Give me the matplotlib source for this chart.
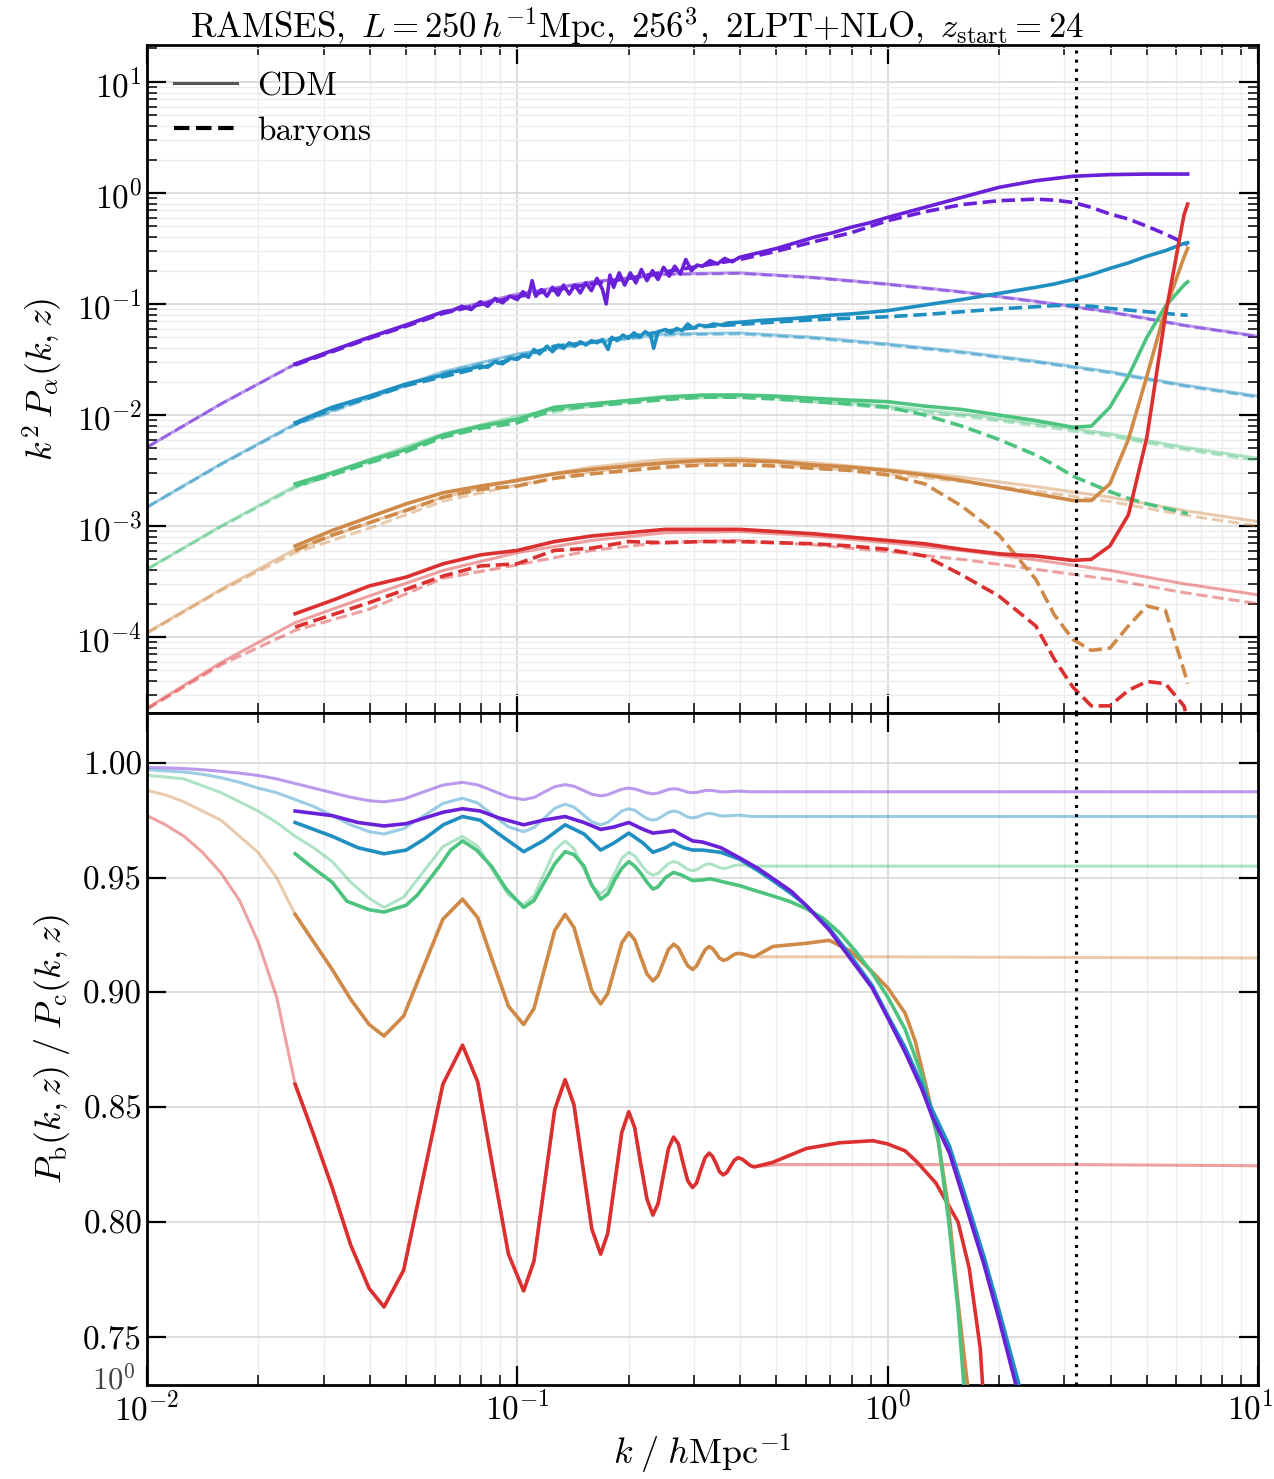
import numpy as np
import matplotlib
matplotlib.use("Agg")
import matplotlib.pyplot as plt
from matplotlib.lines import Line2D
from matplotlib.transforms import ScaledTranslation
from matplotlib.ticker import (LogLocator, MultipleLocator, NullFormatter, FixedLocator,
                               NullLocator, FormatStrFormatter)

plt.rcParams.update({
    "font.family": "serif",
    "font.serif": ["cmr10", "DejaVu Serif"],
    "mathtext.fontset": "cm",
    "axes.formatter.use_mathtext": True,
    "font.size": 24,
})

# ---------------- data (log10 values) ----------------
names = ["purple", "blue", "green", "orange", "red"]
colors = ["#6a1fd8", "#1f8fc2", "#4cc47f", "#cf8a48", "#dc2f2f"]
k_nyq = np.pi * 256 / 250.0

# linear theory, top panel (log10 k, log10 k^2 P)
th_logk = [-2.0, -1.8, -1.6, -1.4, -1.2, -1.0, -0.8, -0.6, -0.4, -0.2, 0.0, 0.2, 0.4, 0.6, 0.8, 1.0]
th_cdm = {
    "purple": [-2.29, -1.90, -1.54, -1.30, -1.07, -0.91, -0.80, -0.73, -0.72, -0.76, -0.82, -0.89, -0.975, -1.07, -1.19, -1.29],
    "blue":   [-2.83, -2.44, -2.08, -1.84, -1.61, -1.45, -1.34, -1.27, -1.26, -1.30, -1.36, -1.43, -1.515, -1.61, -1.73, -1.83],
    "green":  [-3.39, -3.00, -2.64, -2.40, -2.17, -2.01, -1.90, -1.83, -1.82, -1.86, -1.92, -1.99, -2.075, -2.17, -2.29, -2.39],
    "orange": [-3.96, -3.57, -3.21, -2.97, -2.74, -2.58, -2.47, -2.40, -2.39, -2.43, -2.49, -2.56, -2.645, -2.74, -2.86, -2.96],
    "red":    [-4.64, -4.23, -3.87, -3.63, -3.40, -3.24, -3.13, -3.06, -3.05, -3.09, -3.15, -3.22, -3.305, -3.40, -3.52, -3.62],
}
th_bar = {
    "purple": [-2.29, -1.90, -1.545, -1.305, -1.075, -0.915, -0.805, -0.735, -0.725, -0.765, -0.825, -0.895, -0.98, -1.075, -1.195, -1.295],
    "blue":   [-2.83, -2.445, -2.09, -1.85, -1.62, -1.46, -1.35, -1.28, -1.27, -1.31, -1.37, -1.44, -1.525, -1.62, -1.74, -1.84],
    "green":  [-3.39, -3.005, -2.655, -2.425, -2.19, -2.03, -1.92, -1.85, -1.84, -1.88, -1.94, -2.01, -2.095, -2.19, -2.31, -2.41],
    "orange": [-3.965, -3.58, -3.24, -3.02, -2.775, -2.63, -2.51, -2.44, -2.43, -2.47, -2.53, -2.60, -2.685, -2.78, -2.90, -3.00],
    "red":    [-4.65, -4.25, -3.94, -3.75, -3.47, -3.35, -3.22, -3.145, -3.13, -3.17, -3.23, -3.30, -3.39, -3.48, -3.60, -3.70],
}

# simulations, top panel
sim_logk = [-1.6, -1.5, -1.4, -1.3, -1.2, -1.1, -1.0, -0.9, -0.8, -0.7, -0.6, -0.5, -0.4, -0.3, -0.2,
            -0.1, 0.0, 0.1, 0.2, 0.3, 0.4, 0.45, 0.5, 0.55, 0.6, 0.65, 0.7, 0.75, 0.8, 0.81]

purple_cdm_logk = [-1.6, -1.5, -1.4, -1.3, -1.2, -1.175, -1.15, -1.125, -1.10, -1.08, -1.06, -1.04, -1.02, -1.00,
                   -0.985, -0.97, -0.96, -0.95, -0.935, -0.92, -0.905, -0.89, -0.875, -0.86, -0.845, -0.83, -0.815,
                   -0.80, -0.785, -0.77, -0.76, -0.75, -0.74, -0.725, -0.71, -0.695, -0.68, -0.665, -0.65, -0.635,
                   -0.62, -0.605, -0.59, -0.575, -0.56, -0.545, -0.53, -0.515, -0.50, -0.48, -0.46, -0.44, -0.42,
                   -0.40, -0.35, -0.30, -0.25, -0.20, -0.15, -0.10, -0.05, 0.0, 0.1, 0.2, 0.3, 0.4, 0.5, 0.6, 0.7, 0.81]
purple_cdm = [-1.54, -1.42, -1.30, -1.19, -1.07, -1.06, -1.02, -1.05, -0.98, -1.02, -0.95, -0.99, -0.93, -0.96,
              -0.89, -0.94, -0.79, -0.93, -0.87, -0.93, -0.85, -0.92, -0.83, -0.91, -0.83, -0.90, -0.81,
              -0.88, -0.77, -0.87, -1.00, -0.74, -0.85, -0.72, -0.83, -0.72, -0.81, -0.69, -0.79, -0.70,
              -0.78, -0.67, -0.75, -0.66, -0.73, -0.60, -0.70, -0.65, -0.66, -0.61, -0.64, -0.59, -0.62,
              -0.58, -0.54, -0.50, -0.45, -0.40, -0.36, -0.31, -0.27, -0.22, -0.13, -0.04, 0.05, 0.11, 0.15, 0.165, 0.17, 0.17]
purple_bar = [-1.55, -1.43, -1.31, -1.20, -1.085, -1.005, -0.935, -0.875, -0.82, -0.77, -0.71, -0.655, -0.60, -0.525,
              -0.44, -0.36, -0.25, -0.17, -0.105, -0.07, -0.056, -0.065, -0.085, -0.13, -0.19, -0.235, -0.30, -0.37, -0.45, -0.465]

blue_cdm_logk = [-1.6, -1.5, -1.4, -1.3, -1.2, -1.175, -1.15, -1.125, -1.10, -1.08, -1.06, -1.04, -1.02, -1.00,
                 -0.985, -0.97, -0.955, -0.94, -0.92, -0.905, -0.89, -0.875, -0.86, -0.845, -0.83, -0.815, -0.80,
                 -0.785, -0.77, -0.755, -0.745, -0.73, -0.715, -0.70, -0.685, -0.67, -0.655, -0.64, -0.632, -0.62,
                 -0.60, -0.585, -0.57, -0.555, -0.54, -0.525, -0.51, -0.49, -0.47, -0.45, -0.43, -0.40, -0.35,
                 -0.30, -0.25, -0.20, -0.15, -0.10, -0.05, 0.0, 0.1, 0.2, 0.3, 0.4, 0.45, 0.5, 0.55, 0.6, 0.65,
                 0.7, 0.75, 0.8, 0.81]
blue_cdm = [-2.07, -1.93, -1.83, -1.72, -1.64, -1.61, -1.60, -1.58, -1.56, -1.57, -1.52, -1.54, -1.49, -1.50,
            -1.46, -1.48, -1.41, -1.45, -1.38, -1.43, -1.37, -1.40, -1.35, -1.38, -1.34, -1.37, -1.33,
            -1.35, -1.32, -1.41, -1.30, -1.33, -1.28, -1.31, -1.26, -1.30, -1.25, -1.28, -1.40, -1.25,
            -1.23, -1.26, -1.22, -1.24, -1.18, -1.22, -1.19, -1.20, -1.18, -1.19, -1.17, -1.165, -1.15,
            -1.14, -1.13, -1.115, -1.10, -1.09, -1.075, -1.06, -1.01, -0.96, -0.905, -0.85, -0.82, -0.78, -0.735, -0.68, -0.63,
            -0.57, -0.52, -0.455, -0.448]
blue_bar = [-2.08, -1.945, -1.845, -1.735, -1.655, -1.575, -1.485, -1.38, -1.345, -1.295, -1.245, -1.205, -1.184, -1.162,
            -1.143, -1.128, -1.115, -1.095, -1.07, -1.045, -1.025, -1.015, -1.013, -1.02, -1.04, -1.055, -1.07, -1.085, -1.10, -1.10]

green_cdm = [-2.62, -2.52, -2.41, -2.31, -2.18, -2.10, -2.04, -1.93, -1.90, -1.87, -1.84, -1.82, -1.82, -1.83, -1.85,
             -1.866, -1.88, -1.92, -1.95, -2.00, -2.05, -2.08, -2.11, -2.10, -1.93, -1.65, -1.30, -1.02, -0.83, -0.80]
green_bar = [-2.64, -2.54, -2.43, -2.33, -2.20, -2.12, -2.07, -1.95, -1.92, -1.89, -1.86, -1.84, -1.84, -1.855, -1.88,
             -1.90, -1.93, -2.00, -2.10, -2.22, -2.36, -2.45, -2.55, -2.62, -2.69, -2.75, -2.80, -2.84, -2.88, -2.89]
orange_cdm = [-3.18, -3.04, -2.92, -2.80, -2.70, -2.64, -2.59, -2.53, -2.49, -2.46, -2.43, -2.41, -2.41, -2.42, -2.45,
              -2.47, -2.50, -2.54, -2.59, -2.65, -2.71, -2.74, -2.77, -2.77, -2.62, -2.22, -1.65, -1.05, -0.58, -0.50]
orange_bar = [-3.22, -3.08, -2.97, -2.86, -2.74, -2.67, -2.64, -2.57, -2.53, -2.50, -2.47, -2.45, -2.45, -2.46, -2.48,
              -2.50, -2.54, -2.62, -2.82, -3.08, -3.48, -3.80, -4.02, -4.12, -4.10, -3.90, -3.72, -3.76, -4.30, -4.42]
red_cdm = [-3.79, -3.67, -3.54, -3.46, -3.34, -3.26, -3.22, -3.14, -3.09, -3.06, -3.03, -3.03, -3.03, -3.05, -3.07,
           -3.10, -3.13, -3.16, -3.21, -3.25, -3.27, -3.29, -3.31, -3.30, -3.18, -2.90, -2.20, -1.10, -0.20, -0.10]
red_bar = [-3.91, -3.80, -3.69, -3.57, -3.45, -3.36, -3.34, -3.22, -3.20, -3.14, -3.15, -3.14, -3.14, -3.15, -3.16,
           -3.18, -3.21, -3.27, -3.44, -3.63, -3.90, -4.20, -4.45, -4.62, -4.62, -4.48, -4.40, -4.42, -4.62, -4.75]

# ratio, bottom panel: linear theory (log10 k, ratio)
rt_logk = [-2.0, -1.95, -1.9, -1.85, -1.8, -1.75, -1.7, -1.65, -1.6, -1.55, -1.5, -1.45, -1.4,
           -1.36, -1.307, -1.254, -1.201, -1.148, -1.107, -1.066, -1.024, -0.983, -0.955, -0.927, -0.899,
           -0.871, -0.847, -0.823, -0.799, -0.775, -0.756, -0.737, -0.718, -0.699, -0.683, -0.667, -0.650,
           -0.634, -0.620, -0.606, -0.592, -0.578, -0.565, -0.553, -0.540, -0.527, -0.516, -0.505, -0.493,
           -0.482, -0.473, -0.463, -0.454, -0.444, -0.434, -0.424, -0.414, -0.404, -0.393, -0.382, -0.371,
           -0.36, -0.30, -0.2, 0.0, 0.5, 1.0]
rt = {
    "purple": [0.998, 0.9978, 0.9975, 0.997, 0.9963, 0.9955, 0.9945, 0.993, 0.991, 0.989, 0.987, 0.985, 0.9835,
               0.983, 0.9842, 0.9873, 0.9903, 0.9915, 0.9904, 0.9878, 0.9851, 0.984, 0.9849, 0.9873, 0.9896,
               0.9905, 0.9898, 0.9881, 0.9863, 0.9856, 0.9861, 0.9873, 0.9885, 0.989, 0.9886, 0.9878, 0.9869,
               0.9865, 0.9868, 0.9876, 0.9884, 0.9887, 0.9885, 0.9879, 0.9872, 0.987, 0.9871, 0.9875, 0.9879,
               0.988, 0.9879, 0.9877, 0.9874, 0.9873, 0.9874, 0.9875, 0.9876, 0.9877, 0.9876, 0.9875, 0.9874,
               0.9874, 0.9874, 0.9874, 0.9874, 0.9874, 0.9874],
    "blue":   [0.997, 0.9965, 0.996, 0.995, 0.9935, 0.9915, 0.989, 0.987, 0.984, 0.981, 0.977, 0.973, 0.970,
               0.969, 0.9713, 0.9768, 0.9823, 0.9846, 0.9825, 0.9773, 0.9721, 0.970, 0.9718, 0.976, 0.9802,
               0.982, 0.9807, 0.9775, 0.9743, 0.973, 0.974, 0.9765, 0.979, 0.980, 0.9793, 0.9775, 0.9757,
               0.975, 0.9756, 0.977, 0.9784, 0.979, 0.9786, 0.9775, 0.9764, 0.976, 0.9763, 0.977, 0.9777,
               0.978, 0.9778, 0.9774, 0.977, 0.9768, 0.9769, 0.977, 0.9771, 0.9772, 0.9771, 0.9769, 0.9767,
               0.9766, 0.9766, 0.9766, 0.9766, 0.9766, 0.9766],
    "green":  [0.9946, 0.9938, 0.993, 0.990, 0.987, 0.983, 0.979, 0.974, 0.968, 0.963, 0.957, 0.948, 0.941,
               0.937, 0.9415, 0.9525, 0.9635, 0.968, 0.9636, 0.953, 0.9424, 0.938, 0.9421, 0.952, 0.9619,
               0.966, 0.9626, 0.9545, 0.9464, 0.943, 0.9456, 0.952, 0.9584, 0.961, 0.9595, 0.956, 0.9525,
               0.951, 0.9519, 0.954, 0.9561, 0.957, 0.9564, 0.955, 0.9536, 0.953, 0.9534, 0.9545, 0.9556,
               0.956, 0.9557, 0.955, 0.9543, 0.954, 0.9542, 0.9548, 0.9553, 0.9555, 0.9555, 0.9552, 0.955,
               0.955, 0.955, 0.955, 0.955, 0.955, 0.955],
    "orange": [0.988, 0.986, 0.983, 0.979, 0.975, 0.968, 0.961, 0.950, 0.934, 0.922, 0.910, 0.897, 0.886,
               0.881, 0.8897, 0.9108, 0.9319, 0.9406, 0.9326, 0.9133, 0.8940, 0.886, 0.893, 0.910, 0.927,
               0.934, 0.9283, 0.9145, 0.9007, 0.895, 0.8995, 0.9105, 0.9215, 0.926, 0.9229, 0.9155, 0.9081,
               0.905, 0.9073, 0.913, 0.9187, 0.921, 0.9194, 0.9155, 0.9116, 0.910, 0.9115, 0.915, 0.9185,
               0.920, 0.9191, 0.917, 0.9149, 0.914, 0.9144, 0.9155, 0.9166, 0.917, 0.9168, 0.9163, 0.9157,
               0.9155, 0.9155, 0.9155, 0.9155, 0.9152, 0.915],
    "red":    [0.977, 0.973, 0.968, 0.961, 0.952, 0.940, 0.922, 0.898, 0.860, 0.838, 0.815, 0.790, 0.771,
               0.763, 0.779, 0.8195, 0.860, 0.877, 0.861, 0.8235, 0.786, 0.770, 0.783, 0.816, 0.849,
               0.862, 0.851, 0.824, 0.797, 0.786, 0.795, 0.817, 0.839, 0.848, 0.841, 0.8255, 0.810,
               0.803, 0.808, 0.820, 0.832, 0.837, 0.834, 0.826, 0.818, 0.815, 0.817, 0.8225, 0.828,
               0.830, 0.8286, 0.8253, 0.8219, 0.8205, 0.8216, 0.8243, 0.8269, 0.828, 0.8274, 0.826, 0.8246,
               0.824, 0.825, 0.825, 0.825, 0.825, 0.8245],
}

# ratio, bottom panel: simulations
rs_purple_logk = [-1.6, -1.5, -1.43, -1.36, -1.30, -1.25, -1.20, -1.148, -1.10, -1.05, -0.983, -0.93, -0.871,
                  -0.82, -0.775, -0.74, -0.699, -0.66, -0.634, -0.60, -0.578, -0.55, -0.527, -0.50, -0.45, -0.40,
                  -0.35, -0.31, -0.26, -0.221, -0.158, -0.10, -0.042, 0.0, 0.047, 0.092, 0.12, 0.167, 0.212,
                  0.26, 0.30, 0.34, 0.36]
rs_purple = [0.979, 0.977, 0.974, 0.9725, 0.9735, 0.976, 0.9785, 0.980, 0.979, 0.976, 0.973, 0.975, 0.9766,
             0.974, 0.971, 0.972, 0.974, 0.971, 0.9694, 0.970, 0.9705, 0.968, 0.966, 0.9655, 0.963, 0.9586,
             0.954, 0.9496, 0.944, 0.938, 0.9272, 0.9146, 0.902, 0.889, 0.874, 0.858, 0.846, 0.830, 0.8066,
             0.7815, 0.758, 0.733, 0.72]
rs_blue_logk = [-1.6, -1.5, -1.43, -1.36, -1.30, -1.25, -1.20, -1.148, -1.10, -1.05, -0.983, -0.93, -0.871,
                -0.82, -0.775, -0.74, -0.699, -0.66, -0.634, -0.60, -0.578, -0.55, -0.527, -0.50, -0.45, -0.40,
                -0.35, -0.31, -0.26, -0.221, -0.158, -0.10, -0.042, 0.0, 0.047, 0.092, 0.12, 0.167, 0.212,
                0.26, 0.30, 0.34, 0.37]
rs_blue = [0.974, 0.968, 0.963, 0.9604, 0.962, 0.967, 0.973, 0.9766, 0.975, 0.969, 0.9613, 0.966, 0.973,
           0.969, 0.962, 0.965, 0.9694, 0.965, 0.961, 0.963, 0.965, 0.963, 0.962, 0.962, 0.961, 0.958,
           0.953, 0.9487, 0.943, 0.938, 0.928, 0.916, 0.903, 0.890, 0.876, 0.860, 0.849, 0.833, 0.810,
           0.785, 0.762, 0.738, 0.72]
rs_green_logk = [-1.6, -1.55, -1.5, -1.46, -1.40, -1.36, -1.30, -1.27, -1.21, -1.18, -1.148, -1.11, -1.07, -1.03,
                 -0.983, -0.955, -0.927, -0.899, -0.871, -0.847, -0.82, -0.80, -0.775, -0.755, -0.737, -0.718,
                 -0.699, -0.683, -0.667, -0.65, -0.634, -0.62, -0.60, -0.578, -0.555, -0.527, -0.50, -0.48,
                 -0.44, -0.40, -0.355, -0.31, -0.266, -0.22, -0.176, -0.13, -0.087, -0.04, 0.0, 0.047, 0.092,
                 0.137, 0.165, 0.19, 0.21]
rs_green = [0.9604, 0.954, 0.948, 0.9397, 0.936, 0.935, 0.938, 0.9424, 0.955, 0.962, 0.966, 0.962, 0.955, 0.945,
            0.937, 0.940, 0.948, 0.956, 0.9613, 0.960, 0.955, 0.947, 0.9406, 0.943, 0.949, 0.954,
            0.957, 0.955, 0.952, 0.948, 0.945, 0.946, 0.950, 0.9523, 0.951, 0.9487, 0.949, 0.9495,
            0.948, 0.9465, 0.9442, 0.942, 0.9397, 0.9365, 0.9325, 0.926, 0.918, 0.908, 0.898, 0.884, 0.864,
            0.8354, 0.80, 0.762, 0.72]
# orange and red simulations follow their linear-theory ratio up to k ~ 0.44, then:
rs_orange_tail_logk = [-0.31, -0.22, -0.158, -0.10, -0.042, 0.0, 0.047, 0.074, 0.11, 0.137, 0.165, 0.19, 0.222]
rs_orange_tail = [0.920, 0.9214, 0.9227, 0.918, 0.909, 0.902, 0.891, 0.879, 0.855, 0.835, 0.805, 0.765, 0.72]
rs_red_tail_logk = [-0.31, -0.22, -0.13, -0.04, 0.0, 0.047, 0.08, 0.13, 0.19, 0.22, 0.25, 0.26]
rs_red_tail = [0.826, 0.832, 0.8345, 0.8354, 0.834, 0.831, 0.826, 0.817, 0.800, 0.780, 0.745, 0.72]

top_yticks = [1e-4, 1e-3, 1e-2, 1e-1, 1e0, 1e1]

# ---------------- figure ----------------
W, H = 1274, 1479
fig = plt.figure(figsize=(W / 100, H / 100), dpi=100)
L, R = 147 / W, 1258 / W
ax1 = fig.add_axes([L, 1 - 713 / H, R - L, (713 - 45) / H])
ax2 = fig.add_axes([L, 1 - 1385 / H, R - L, (1385 - 713) / H], sharex=ax1)


def p(lst):
    return 10 ** np.asarray(lst, dtype=float)


cmap = dict(zip(names, colors))
LW_TH, A_TH, LW_S = 2.2, 0.45, 2.6

# top panel: theory
for n in names:
    c = cmap[n]
    ax1.plot(p(th_logk), p(th_cdm[n]), color=c, alpha=A_TH, lw=LW_TH, zorder=2)
    ax1.plot(p(th_logk), p(th_bar[n]), color=c, alpha=A_TH, lw=LW_TH, ls="--", zorder=2)

# top panel: simulations
sims_top = [
    ("purple", purple_cdm_logk, purple_cdm, sim_logk, purple_bar),
    ("blue", blue_cdm_logk, blue_cdm, sim_logk, blue_bar),
    ("green", sim_logk, green_cdm, sim_logk, green_bar),
    ("orange", sim_logk, orange_cdm, sim_logk, orange_bar),
    ("red", sim_logk, red_cdm, sim_logk, red_bar),
]
for n, kc, vc, kb, vb in sims_top:
    c = cmap[n]
    ax1.plot(p(kb), p(vb), color=c, lw=LW_S, ls="--", zorder=3)
    ax1.plot(p(kc), p(vc), color=c, lw=LW_S, zorder=4)

# bottom panel: theory
for n in names:
    ax2.plot(p(rt_logk), rt[n], color=cmap[n], alpha=A_TH, lw=LW_TH, zorder=2)

# bottom panel: simulations
i0, i1 = 8, 62   # from k = 0.025 up to k ~ 0.44 (index range in rt_logk)
rs_orange_logk = rt_logk[i0:i1] + rs_orange_tail_logk
rs_orange = rt["orange"][i0:i1] + rs_orange_tail
rs_red_logk = rt_logk[i0:i1] + rs_red_tail_logk
rs_red = rt["red"][i0:i1] + rs_red_tail
sims_bot = [("red", rs_red_logk, rs_red), ("orange", rs_orange_logk, rs_orange),
            ("green", rs_green_logk, rs_green), ("blue", rs_blue_logk, rs_blue),
            ("purple", rs_purple_logk, rs_purple)]
for n, kk, vv in sims_bot:
    ax2.plot(p(kk), vv, color=cmap[n], lw=LW_S, zorder=3)

for ax in (ax1, ax2):
    ax.axvline(k_nyq, color="k", ls=(0, (1, 2)), lw=2.2, zorder=5)
    ax.set_xscale("log")
    ax.set_xlim(1e-2, 1e1)
    ax.xaxis.set_major_locator(FixedLocator([1e-2, 1e-1, 1e0, 1e1]))
    ax.xaxis.set_minor_locator(LogLocator(base=10, subs=np.arange(2, 10), numticks=40))
    ax.xaxis.set_minor_formatter(NullFormatter())
    ax.tick_params(which="both", direction="in", top=True, right=True, labelsize=24)
    ax.tick_params(which="major", length=14, width=1.6)
    ax.tick_params(which="minor", length=7, width=1.1)
    ax.grid(True, which="major", color="#dadada", lw=1.3, zorder=0)
    ax.grid(True, which="minor", color="#ededed", lw=1.0, zorder=0)
    for s in ax.spines.values():
        s.set_linewidth(2.0)
    ax.set_axisbelow(True)

ax1.set_yscale("log")
ax1.set_ylim(2.07e-5, 21.5)
ax1.yaxis.set_major_locator(FixedLocator(top_yticks))
ax1.yaxis.set_minor_locator(LogLocator(base=10, subs=np.arange(2, 10), numticks=40))
ax1.yaxis.set_minor_formatter(NullFormatter())
ax1.tick_params(labelbottom=False)
ax1.set_ylabel(r"$k^2\,P_\alpha(k,z)$", fontsize=26, labelpad=8)

ax2.set_ylim(0.729, 1.0217)
ax2.yaxis.set_major_locator(FixedLocator([0.75, 0.80, 0.85, 0.90, 0.95, 1.00]))
ax2.yaxis.set_minor_locator(NullLocator())
ax2.yaxis.set_major_formatter(FormatStrFormatter("%.2f"))
ax2.set_ylabel(r"$P_\mathrm{b}(k,z)\;/\;P_\mathrm{c}(k,z)$", fontsize=26, labelpad=8)
ax2.set_xlabel(r"$k\;/\;h\mathrm{Mpc}^{-1}$", fontsize=26, labelpad=5)

# nudge the last x tick label (10^1) slightly left so it stays inside the canvas
fig.canvas.draw()
for lab in ax2.get_xticklabels():
    if lab.get_position()[0] >= 9.99:
        lab.set_transform(lab.get_transform() + ScaledTranslation(-8 / 100, 0, fig.dpi_scale_trans))

# legend
handles = [Line2D([], [], color="#555555", lw=2.2, ls="-"),
           Line2D([], [], color="k", lw=3.0, ls="--")]
ax1.legend(handles, ["CDM", "baryons"], loc="upper left", frameon=False, fontsize=24,
           handlelength=1.9, handletextpad=0.6, borderaxespad=0.4, labelspacing=0.45)

fig.text(0.5, 1 - 26 / H,
         r"$\mathrm{RAMSES},\ L=250\,h^{-1}\mathrm{Mpc},\ 256^3,\ \mathrm{2LPT{+}NLO},\ z_\mathrm{start}=24$",
         ha="center", va="center", fontsize=25)

# stray overlapping label at bottom-left of the lower panel (as in the reference)
fig.text(136 / W, 1 - 1380 / H, r"$10^0$", ha="right", va="center", fontsize=22, color="#444444")

fig.savefig("out.png", dpi=100)
